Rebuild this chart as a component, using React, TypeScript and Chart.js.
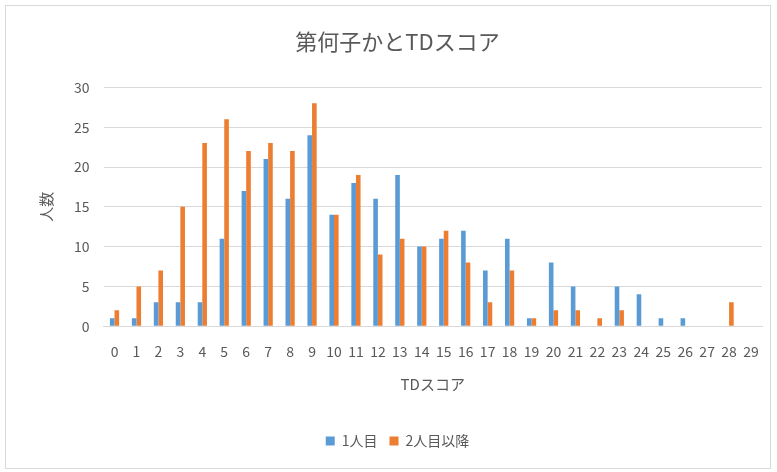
import React, { useEffect, useRef } from "react";
import { Chart, registerables } from "chart.js";

Chart.register(...registerables);

const categories = Array.from({ length: 30 }, (_, i) => String(i));
const first = [1, 1, 3, 3, 3, 11, 17, 21, 16, 24, 14, 18, 16, 19, 10, 11, 12, 7, 11, 1, 8, 5, 0, 5, 4, 1, 1, 0, 0, 0];
const later = [2, 5, 7, 15, 23, 26, 22, 23, 22, 28, 14, 19, 9, 11, 10, 12, 8, 3, 7, 1, 2, 2, 1, 2, 0, 0, 0, 0, 3, 0];
const yTicks = [0, 5, 10, 15, 20, 25, 30];

const FONT = "'Noto Sans CJK JP', 'Noto Sans', sans-serif";
const TEXT = "#595959";

export default function App() {
  const ref = useRef<HTMLCanvasElement>(null);
  useEffect(() => {
    if (!ref.current) return;
    const chart = new Chart(ref.current, {
      type: "bar",
      data: {
        labels: categories,
        datasets: [
          { label: "1人目", data: first, backgroundColor: "#5B9BD5", categoryPercentage: 0.42, barPercentage: 1 },
          { label: "2人目以降", data: later, backgroundColor: "#ED7D31", categoryPercentage: 0.42, barPercentage: 1 },
        ],
      },
      options: {
        animation: false,
        responsive: false,
        layout: { padding: { left: 33, right: 15, top: 14, bottom: 14 } },
        plugins: {
          title: {
            display: true,
            text: "第何子かとTDスコア",
            color: TEXT,
            font: { family: FONT, size: 22, weight: "normal" },
            padding: { top: 14, bottom: 33 },
          },
          legend: {
            position: "bottom",
            labels: {
              color: TEXT,
              boxWidth: 9,
              boxHeight: 9,
              font: { family: FONT, size: 14 },
              padding: 12,
            },
          },
          tooltip: { enabled: false },
        },
        scales: {
          x: {
            grid: { display: false, drawTicks: false },
            border: { display: true, color: "#d9d9d9" },
            ticks: {
              color: TEXT,
              autoSkip: false,
              maxRotation: 0,
              padding: 17,
              font: { family: FONT, size: 14 },
            },
            title: {
              display: true,
              text: "TDスコア",
              color: TEXT,
              font: { family: FONT, size: 15, lineHeight: 1.0 },
              padding: { top: 0, bottom: 30 },
            },
          },
          y: {
            min: 0,
            max: 30,
            afterBuildTicks: (axis: any) => {
              axis.ticks = yTicks.map((v) => ({ value: v }));
            },
            grid: { color: "#d9d9d9", drawTicks: false },
            border: { display: false },
            ticks: {
              color: TEXT,
              padding: 14,
              font: { family: FONT, size: 14 },
            },
            title: {
              display: true,
              text: "人数",
              color: TEXT,
              font: { family: FONT, size: 15 },
              padding: { bottom: 5 },
            },
          },
        },
      },
    });
    return () => chart.destroy();
  }, []);
  return (
    <div style={{ position: "absolute", left: 0, top: 0, width: 777, height: 472, background: "#fff" }}>
      <div
        style={{
          position: "absolute",
          left: 5,
          top: 5,
          width: 764,
          height: 462,
          border: "1px solid #d9d9d9",
        }}
      />
      <canvas ref={ref} width={777} height={472} style={{ position: "absolute", left: 0, top: 0 }} />
    </div>
  );
}
